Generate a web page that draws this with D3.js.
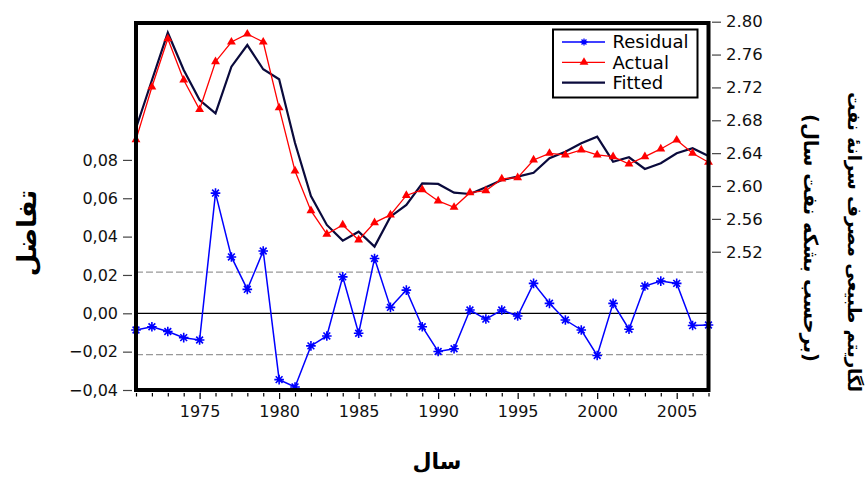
<!DOCTYPE html>
<meta charset="utf-8">
<style>
body { margin: 0; background: #fff; }
svg { display: block; font-family: "DejaVu Sans", sans-serif; }
.ar { font-family: "DejaVu Sans", sans-serif; font-weight: bold; }
</style>
<body>
<svg id="chart" width="866" height="477"></svg>
<script src="https://d3js.org/d3.v7.min.js"></script>
<script>

// years 1971..2007
var years = d3.range(1971, 2008);

var residual = [-0.0087, -0.0070, -0.0095, -0.0127, -0.0139, 0.0627, 0.0294, 0.0125, 0.0325, -0.0346,
                -0.0384, -0.0170, -0.0118, 0.0190, -0.0104, 0.0286, 0.0031, 0.0121, -0.0070, -0.0199,
                -0.0185, 0.0017, -0.0030, 0.0017, -0.0014, 0.0156, 0.0052, -0.0035, -0.0087, -0.0220,
                 0.0052, -0.0083, 0.0142, 0.0168, 0.0156, -0.0064, -0.0061];

var actual = [2.6564, 2.7205, 2.7792, 2.7290, 2.6931, 2.7513, 2.7753, 2.7850, 2.7753, 2.6952,
              2.6183, 2.5700, 2.5414, 2.5526, 2.5343, 2.5554, 2.5648, 2.5885, 2.5955, 2.5818,
              2.5741, 2.5919, 2.5943, 2.6086, 2.6102, 2.6317, 2.6398, 2.6378, 2.6439, 2.6378,
              2.6357, 2.6268, 2.6357, 2.6451, 2.6560, 2.6398, 2.6289];

var fitted = [2.6703, 2.7287, 2.7866, 2.7412, 2.7047, 2.6885, 2.7452, 2.7716, 2.7421, 2.7299,
              2.6524, 2.5879, 2.5526, 2.5335, 2.5444, 2.5262, 2.5627, 2.5769, 2.6033, 2.6025,
              2.5919, 2.5903, 2.5985, 2.6073, 2.6114, 2.6162, 2.6338, 2.6418, 2.6520, 2.6600,
              2.6296, 2.6350, 2.6207, 2.6277, 2.6398, 2.6459, 2.6366];

var leftTicks = [-0.04, -0.02, 0.00, 0.02, 0.04, 0.06, 0.08];
var rightTicks = [2.52, 2.56, 2.60, 2.64, 2.68, 2.72, 2.76, 2.80];
var bandLevel = 0.0215;   // dashed +/- band

var legendNames = ["Residual", "Actual", "Fitted"];

var plot = {left: 136, right: 708.5, top: 23, bottom: 390};

var svg = d3.select("#chart");

var x = d3.scaleLinear().domain([1971, 2007]).range([plot.left, plot.right]);
var yL = d3.scaleLinear().domain([-0.04, 0.1514]).range([plot.bottom, plot.top]);
var yR = d3.scaleLinear().domain([2.3517, 2.80]).range([plot.bottom, 21.7]);

// reference lines
svg.append("line")
   .attr("x1", plot.left).attr("x2", plot.right)
   .attr("y1", yL(0)).attr("y2", yL(0))
   .attr("stroke", "#000").attr("stroke-width", 1.2);

[bandLevel, -bandLevel].forEach(function(v) {
  svg.append("line")
     .attr("x1", plot.left).attr("x2", plot.right)
     .attr("y1", yL(v)).attr("y2", yL(v))
     .attr("stroke", "#999").attr("stroke-width", 1.2)
     .attr("stroke-dasharray", "7,3");
});

// fitted
var lineR = d3.line().x((d, i) => x(years[i])).y(d => yR(d));
svg.append("path")
   .attr("d", lineR(fitted))
   .attr("fill", "none").attr("stroke", "#0a0a3c").attr("stroke-width", 2.2);

// actual
svg.append("path")
   .attr("d", lineR(actual))
   .attr("fill", "none").attr("stroke", "#ff0000").attr("stroke-width", 1.3);

var tri = d3.symbol().type(d3.symbolTriangle).size(34);
svg.append("g").selectAll("path")
   .data(actual).enter().append("path")
   .attr("d", tri)
   .attr("transform", (d, i) => "translate(" + x(years[i]) + "," + yR(d) + ")")
   .attr("fill", "#ff0000");

// residual
function star(r) {
  var a = r * Math.SQRT1_2;
  return "M" + (-r) + ",0L" + r + ",0M0," + (-r) + "L0," + r +
         "M" + (-a) + "," + (-a) + "L" + a + "," + a +
         "M" + (-a) + "," + a + "L" + a + "," + (-a);
}
var lineL = d3.line().x((d, i) => x(years[i])).y(d => yL(d));
svg.append("path")
   .attr("d", lineL(residual))
   .attr("fill", "none").attr("stroke", "#0000ff").attr("stroke-width", 1.5);

svg.append("g").selectAll("path")
   .data(residual).enter().append("path")
   .attr("d", star(4.8))
   .attr("transform", (d, i) => "translate(" + x(years[i]) + "," + yL(d) + ")")
   .attr("stroke", "#0000ff").attr("stroke-width", 1.6).attr("fill", "none");

// frame
svg.append("rect")
   .attr("x", plot.left).attr("y", plot.top)
   .attr("width", plot.right - plot.left).attr("height", plot.bottom - plot.top)
   .attr("fill", "none").attr("stroke", "#000").attr("stroke-width", 4);

// x axis
var xAxis = d3.axisBottom(x)
   .tickValues(years)
   .tickSize(6)
   .tickFormat(d => d % 5 === 0 ? d : "");
var gx = svg.append("g").attr("transform", "translate(0," + (plot.bottom + 3) + ")").call(xAxis);
gx.select(".domain").remove();
gx.selectAll("line")
  .attr("y2", d => d % 5 === 0 ? 6 : 3.5)
  .attr("stroke", "#000").attr("stroke-width", 1.2);
gx.selectAll("text")
  .attr("y", 24).attr("dy", null)
  .attr("font-size", 16).attr("font-family", "DejaVu Sans").attr("fill", "#111");

// left axis
var fmtL = d => d3.format(".2f")(d).replace(".", ",");
var gl = svg.append("g").attr("transform", "translate(132,0)")
  .call(d3.axisLeft(yL).tickValues(leftTicks).tickSize(9).tickPadding(5).tickFormat(fmtL));
gl.select(".domain").remove();
gl.selectAll("line").attr("stroke", "#444").attr("stroke-width", 1.2);
gl.selectAll("text").attr("font-size", 16).attr("font-family", "DejaVu Sans").attr("fill", "#111");

// right axis
var gr = svg.append("g").attr("transform", "translate(712,0)")
  .call(d3.axisRight(yR).tickValues(rightTicks).tickSize(9).tickPadding(5).tickFormat(d3.format(".2f")));
gr.select(".domain").remove();
gr.selectAll("line").attr("stroke", "#444").attr("stroke-width", 1.2);
gr.selectAll("text").attr("font-size", 16.5).attr("font-family", "DejaVu Sans").attr("fill", "#111");

// legend
var lg = svg.append("g").attr("transform", "translate(553,29.5)");
lg.append("rect").attr("width", 144.5).attr("height", 68)
  .attr("fill", "#fff").attr("stroke", "#000").attr("stroke-width", 2);
var rowY = [12.5, 32.8, 53.2];
var legColors = ["#0000ff", "#ff0000", "#0a0a3c"];
legendNames.forEach(function(name, i) {
  lg.append("line").attr("x1", 9).attr("x2", 52).attr("y1", rowY[i]).attr("y2", rowY[i])
    .attr("stroke", legColors[i]).attr("stroke-width", i === 2 ? 2.2 : 1.3);
  if (i === 0) lg.append("path").attr("d", star(3.5)).attr("transform", "translate(31," + rowY[i] + ")")
    .attr("stroke", legColors[i]).attr("stroke-width", 1.3);
  if (i === 1) lg.append("path").attr("d", tri).attr("transform", "translate(31," + rowY[i] + ")")
    .attr("fill", legColors[i]);
  lg.append("text").attr("x", 59.5).attr("y", rowY[i]).attr("dy", "0.36em")
    .attr("font-size", 18).text(name);
});

// axis titles
svg.append("text").attr("class", "ar")
   .attr("x", 437).attr("y", 469).attr("text-anchor", "middle")
   .attr("font-size", 22).text("سال");

svg.append("text").attr("class", "ar")
   .attr("transform", "translate(36,233) rotate(-90)")
   .attr("text-anchor", "middle").attr("font-size", 26).text("تفاضل");

svg.append("text").attr("class", "ar")
   .attr("transform", "translate(848,242) rotate(90)")
   .attr("text-anchor", "middle").attr("font-size", 18).text("لگاریتم طبیعی مصرف سرانهٔ نفت");

svg.append("text").attr("class", "ar")
   .attr("transform", "translate(804,238) rotate(90)")
   .attr("text-anchor", "middle").attr("font-size", 19.5).text("(برحسب بشکه نفت سال)");

</script>
</body>
